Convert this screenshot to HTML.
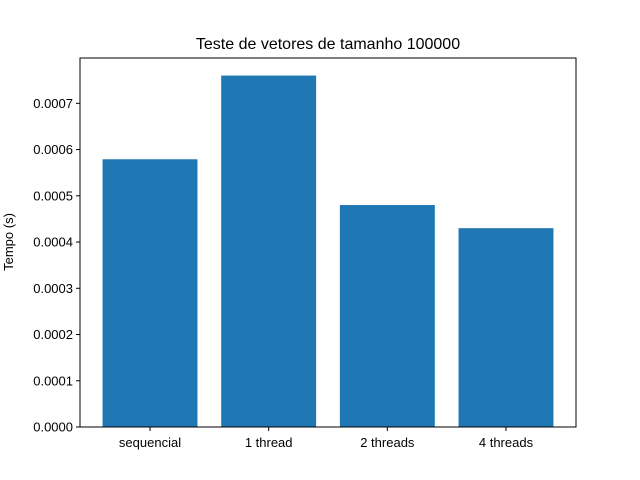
<!DOCTYPE html>
<html><head><meta charset="utf-8"><style>body{margin:0;background:#fff}svg{display:block;font-family:"Liberation Sans","DejaVu Sans",sans-serif}</style></head>
<body>
<svg id="chart" width="640" height="480">
<rect width="640" height="480" fill="#fff"/>
<text x="328" y="49" font-size="16" text-anchor="middle">Teste de vetores de tamanho 100000</text>
<text transform="translate(13,242) rotate(-90)" font-size="13" text-anchor="middle">Tempo (s)</text>
<g id="bars"></g><g id="axes"></g>
</svg>
<script>
const categories = ["sequencial","1 thread","2 threads","4 threads"];
const values = [0.000579, 0.00076, 0.00048, 0.00043];
const yTicks = [0,0.0001,0.0002,0.0003,0.0004,0.0005,0.0006,0.0007];
const yTickLabels = ["0.0000","0.0001","0.0002","0.0003","0.0004","0.0005","0.0006","0.0007"];
const L=80,R=576,T=58,B=427;
const ymax=Math.max(...values)*1.05;
const xmin=-0.59,xmax=categories.length-1+0.59;
const xs=v=>L+(v-xmin)/(xmax-xmin)*(R-L);
const ys=v=>B-v/ymax*(B-T);
const NS="http://www.w3.org/2000/svg";
const bars=document.getElementById('bars'),axes=document.getElementById('axes');
function mk(tag,attrs,parent,text){const e=document.createElementNS(NS,tag);for(const k in attrs)e.setAttribute(k,attrs[k]);if(text!==undefined)e.textContent=text;parent.appendChild(e);return e;}
values.forEach((v,i)=>{
 const r=mk('rect',{x:xs(i-0.4),y:ys(v),width:xs(i+0.4)-xs(i-0.4),height:B-ys(v),fill:'#1f77b4'},bars);
 
 
 const t=mk('line',{x1:xs(i),x2:xs(i),y1:B,y2:B+4,stroke:'#000'},axes);
 
 
 const l=mk('text',{x:xs(i),y:B+20,'font-size':13,'text-anchor':'middle'},axes,categories[i]);
 
 
});
yTicks.forEach((v,i)=>{
 const t=mk('line',{x1:L-4,x2:L,y1:ys(v),y2:ys(v),stroke:'#000'},axes);
 
 
 const l=mk('text',{x:L-7,y:ys(v)+4.5,'font-size':13,'text-anchor':'end'},axes,yTickLabels[i]);
 
 
});
const f=mk('rect',{x:L,y:T,width:R-L,height:B-T,fill:'none',stroke:'#000','stroke-width':1},axes);


</script>
</body></html>
